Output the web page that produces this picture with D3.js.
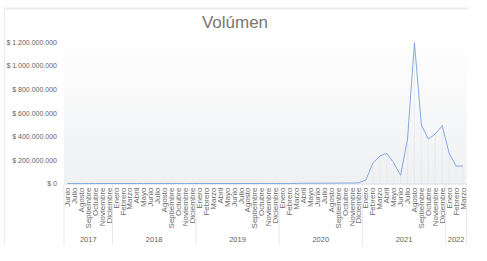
<!DOCTYPE html>
<html lang="es">
<head>
<meta charset="UTF-8">
<title>Volúmen</title>
<script src="https://d3js.org/d3.v7.min.js"></script>
<style>
  body { margin: 0; background: #fff; font-family: 'Liberation Sans', Arial, sans-serif; }
  svg text { fill: #5f5f5f; }
</style>
</head>
<body>
<script>
  // Datos
  const years = ["2017", "2018", "2019", "2020", "2021", "2022"];
  const allMonths = ["Enero", "Febrero", "Marzo", "Abril", "Mayo", "Junio", "Julio",
    "Agosto", "Septiembre", "Octubre", "Noviembre", "Diciembre"];
  const monthsPerYear = [
    allMonths.slice(5), allMonths, allMonths, allMonths, allMonths, allMonths.slice(0, 3)
  ];
  const values = [
    // 2017
    0, 0, 0, 0, 0, 0, 0,
    // 2018
    0, 0, 0, 0, 0, 0, 0, 0, 0, 0, 0, 0,
    // 2019
    0, 0, 0, 0, 0, 0, 0, 0, 0, 0, 0, 0,
    // 2020
    0, 0, 1e6, 2e6, 2e6, 2e6, 3e6, 3e6, 3e6, 4e6, 4e6, 6e6,
    // 2021
    30e6, 171e6, 233e6, 256e6, 176e6, 70e6, 375e6, 1195e6, 496e6, 377e6, 420e6, 490e6,
    // 2022
    256e6, 148e6, 148e6
  ];
  const yTicks = [0, 200e6, 400e6, 600e6, 800e6, 1000e6, 1200e6];

  const rows = [];
  monthsPerYear.forEach((ms, yi) => ms.forEach(m => rows.push({ year: years[yi], month: m })));
  rows.forEach((r, i) => { r.i = i; r.value = values[i]; });

  const W = 487, H = 261;
  const plotL = 64, plotR = 466.5, plotT = 42, plotB = 183.5;

  const svg = d3.select("body").append("svg").attr("width", W).attr("height", H);

  // marco
  svg.append("line").attr("x1", 4).attr("x2", 468).attr("y1", 8.5).attr("y2", 8.5)
    .attr("stroke", "#ececec").attr("stroke-width", 2);
  svg.append("line").attr("x1", 4.5).attr("x2", 4.5).attr("y1", 8).attr("y2", 245)
    .attr("stroke", "#ececec");

  const x = d3.scaleBand().domain(rows.map(d => d.i)).range([plotL, plotR]);
  const y = d3.scaleLinear().domain([0, 1.2e9]).range([plotB, plotT]);

  // fondo del área de trazado
  const grad = svg.append("defs").append("linearGradient")
    .attr("id", "bg").attr("x1", 0).attr("x2", 0).attr("y1", 0).attr("y2", 1);
  grad.append("stop").attr("offset", "0%").attr("stop-color", "#ffffff");
  grad.append("stop").attr("offset", "100%").attr("stop-color", "#eff0f2");
  svg.append("rect").attr("x", plotL).attr("y", plotT - 6).attr("width", plotR - plotL)
    .attr("height", plotB - plotT + 6).attr("fill", "url(#bg)");

  // título
  svg.append("text").attr("x", 235).attr("y", 28).attr("text-anchor", "middle")
    .style("font-size", "17px").style("fill", "#777").text("Volúmen");

  // eje Y
  const loc = d3.formatLocale({ decimal: ",", thousands: ".", grouping: [3], currency: ["$ ", ""] });
  const fmt = loc.format("$,.0f");
  const yAxis = svg.append("g").attr("transform", `translate(${plotL - 7},0)`)
    .call(d3.axisLeft(y).tickValues(yTicks).tickSize(0).tickPadding(0).tickFormat(fmt));
  yAxis.select(".domain").remove();
  yAxis.selectAll("text").style("font-size", "7px").style("font-family", "'Liberation Sans', Arial, sans-serif");

  // líneas de caída
  svg.append("g").selectAll("line").data(rows).join("line")
    .attr("x1", d => x(d.i) + x.bandwidth() / 2).attr("x2", d => x(d.i) + x.bandwidth() / 2)
    .attr("y1", d => y(d.value)).attr("y2", plotB)
    .attr("stroke", "#e2e4e8").attr("stroke-width", 0.6);

  // eje X
  const xAxis = svg.append("g").attr("transform", `translate(0,${plotB})`)
    .call(d3.axisBottom(x).tickSize(0).tickPadding(0).tickFormat(i => rows[i].month));
  xAxis.select(".domain").attr("stroke", "#d3d9e4");
  xAxis.selectAll("text")
    .style("font-size", "8px").style("font-family", "'Liberation Sans', Arial, sans-serif")
    .style("fill", "#6a6a6a")
    .attr("text-anchor", "end")
    .attr("dy", "0.32em")
    .attr("transform", "translate(0,4) rotate(-90)");

  // grupos por año
  let start = 0;
  const groups = monthsPerYear.map((ms, yi) => {
    const g = { year: years[yi], a: start, b: start + ms.length - 1 };
    start += ms.length;
    return g;
  });
  const edges = groups.map(g => x(g.a)).concat([plotR]);
  svg.append("g").selectAll("line").data(edges).join("line")
    .attr("x1", d => d).attr("x2", d => d).attr("y1", plotB).attr("y2", 245)
    .attr("stroke", "#e3e3e3").attr("stroke-width", 0.8);
  svg.append("g").selectAll("text").data(groups).join("text")
    .attr("x", g => (x(g.a) + x(g.b) + x.bandwidth()) / 2).attr("y", 242)
    .attr("text-anchor", "middle").style("font-size", "7.5px").text(g => g.year);

  // serie
  const line = d3.line().x(d => x(d.i) + x.bandwidth() / 2).y(d => y(d.value));
  svg.append("path").datum(rows).attr("d", line)
    .attr("fill", "none").attr("stroke", "#76a2dc").attr("stroke-width", 0.9);
</script>
</body>
</html>
